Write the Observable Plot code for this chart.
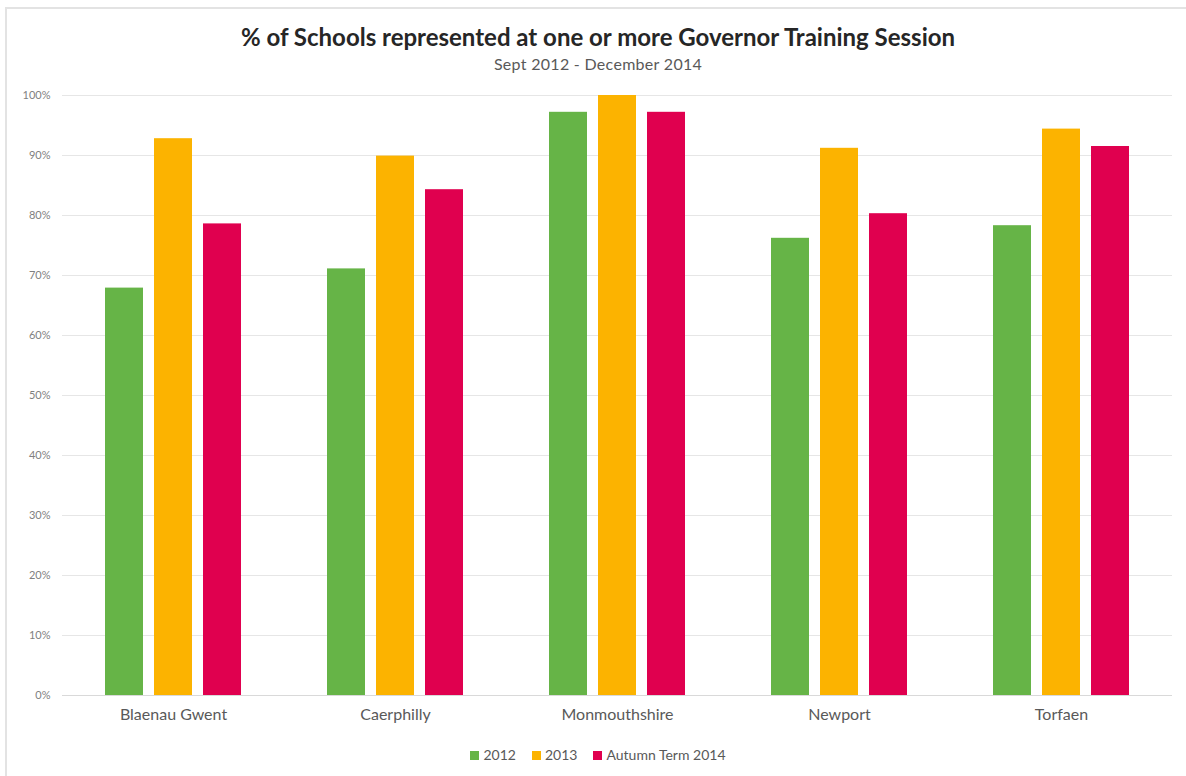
<!DOCTYPE html>
<html>
<head>
<meta charset="utf-8">
<script src="https://cdn.jsdelivr.net/npm/d3@7"></script>
<script src="https://cdn.jsdelivr.net/npm/@observablehq/plot@0.6"></script>
<style>
  html, body { margin: 0; padding: 0; width: 1186px; height: 776px; overflow: hidden; background: #fff; font-family: Lato, "Open Sans", sans-serif; }
  #frame { position: absolute; left: 5px; top: 7px; width: 1300px; height: 900px; border-left: 2px solid #e3e3e3; border-top: 2px solid #e3e3e3; box-sizing: border-box; }
  #title { position: absolute; left: 0; width: 1196px; top: 22px; text-align: center; font-size: 24px; font-weight: bold; color: #262626; }
  #subtitle { position: absolute; left: 0; width: 1196px; top: 54px; text-align: center; font-size: 16px; letter-spacing: 0.3px; color: #595959; }
  #chart { position: absolute; left: 0; top: 80px; }
  #legend { position: absolute; left: 0; width: 1196px; top: 746px; text-align: center; font-size: 14px; color: #595959; }
  #legend span.item { margin: 0 8px; }
  #legend span.sw { display: inline-block; width: 9px; height: 9px; margin-right: 4px; vertical-align: 0px; }
</style>
</head>
<body>
<div id="frame"></div>
<div id="title">% of Schools represented at one or more Governor Training Session</div>
<div id="subtitle">Sept 2012 - December 2014</div>
<div id="chart"></div>
<div id="legend"></div>
<script>
const categories = ["Blaenau Gwent", "Caerphilly", "Monmouthshire", "Newport", "Torfaen"];
const seriesNames = ["2012", "2013", "Autumn Term 2014"];
const values2012 = [67.9, 71.1, 97.2, 76.2, 78.3];
const values2013 = [92.8, 89.9, 100, 91.2, 94.4];
const valuesAutumn2014 = [78.6, 84.3, 97.2, 80.3, 91.5];
const colors = ["#66b447", "#fcb300", "#e0004f"];
const yTicks = [0, 10, 20, 30, 40, 50, 60, 70, 80, 90, 100];

const seriesValues = [values2012, values2013, valuesAutumn2014];
const data = [];
categories.forEach((c, i) => {
  seriesNames.forEach((s, j) => {
    data.push({category: c, series: s, value: seriesValues[j][i]});
  });
});

const chart = Plot.plot({
  width: 1186,
  height: 660,
  marginTop: 15,
  marginBottom: 45,
  marginLeft: 62,
  marginRight: 14,
  style: {fontFamily: "Lato, 'Open Sans', sans-serif", background: "transparent"},
  fx: {domain: categories, padding: 0, axis: null, label: null},
  x: {domain: seriesNames, axis: null, paddingInner: 0.22, paddingOuter: 0.846},
  y: {domain: [0, 100], axis: null},
  color: {domain: seriesNames, range: colors},
  marks: [
    Plot.ruleY(yTicks, {stroke: "#e6e6e6", strokeWidth: 1}),
    Plot.ruleY([0], {stroke: "#d9d9d9", strokeWidth: 1}),
    Plot.axisY(yTicks, {facetAnchor: "left", tickSize: 0, tickPadding: 12, tickFormat: d => d + "%", fontSize: 11, fill: "#7f7f7f", label: null}),
    Plot.axisFx({anchor: "bottom", tickSize: 0, tickPadding: 13, fontSize: 16, fill: "#595959", label: null}),
    Plot.barY(data, {fx: "category", x: "series", y: "value", fill: "series"})
  ]
});
document.getElementById("chart").appendChild(chart);

const legend = document.getElementById("legend");
seriesNames.forEach((s, j) => {
  const item = document.createElement("span");
  item.className = "item";
  const sw = document.createElement("span");
  sw.className = "sw";
  sw.style.background = colors[j];
  item.appendChild(sw);
  item.appendChild(document.createTextNode(s));
  legend.appendChild(item);
});
</script>
</body>
</html>
